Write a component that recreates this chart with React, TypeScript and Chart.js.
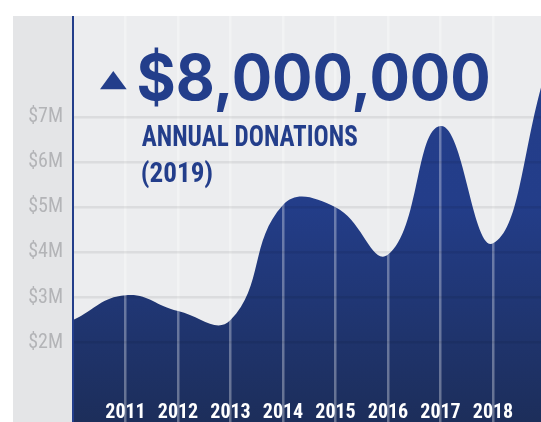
import React, { useEffect, useRef } from 'react';
import { Chart, registerables } from 'chart.js';

Chart.register(...registerables);

// ---- data ----
const years = [2010, 2011, 2012, 2013, 2014, 2015, 2016, 2017, 2018, 2019];
const donationsM = [2.5, 3.05, 2.7, 2.5, 5.05, 5.0, 3.95, 6.8, 4.2, 8.0]; // millions of dollars
const labelledYears = [2011, 2012, 2013, 2014, 2015, 2016, 2017, 2018];
const yTickValues = [2, 3, 4, 5, 6, 7];
const headline = '$8,000,000';
const subtitleLine1 = 'ANNUAL DONATIONS';
const subtitleLine2 = '(2019)';

const NAVY = '#233e8b';
const NARROW = '"Roboto Condensed", "Liberation Sans Narrow", "DejaVu Sans Condensed", sans-serif';

function drawFitted(
  ctx: CanvasRenderingContext2D,
  text: string,
  family: string,
  weight: string,
  refChar: string,
  left: number,
  right: number,
  capTop: number,
  baseline: number
) {
  ctx.save();
  ctx.font = `${weight} 100px ${family}`;
  const asc = ctx.measureText(refChar).actualBoundingBoxAscent || 72;
  const size = (100 * (baseline - capTop)) / asc;
  ctx.font = `${weight} ${size}px ${family}`;
  const m = ctx.measureText(text);
  const inkW = m.actualBoundingBoxLeft + m.actualBoundingBoxRight;
  const sx = (right - left) / inkW;
  ctx.translate(left, baseline);
  ctx.scale(sx, 1);
  ctx.textAlign = 'left';
  ctx.textBaseline = 'alphabetic';
  ctx.fillStyle = NAVY;
  ctx.fillText(text, m.actualBoundingBoxLeft, 0);
  ctx.restore();
}

const backgroundPlugin = {
  id: 'panelBackground',
  beforeDraw(chart: any) {
    const { ctx, chartArea: a, width, height } = chart;
    ctx.save();
    ctx.fillStyle = '#e4e5e7';
    ctx.fillRect(0, 0, width, height);
    ctx.fillStyle = '#ecedef';
    ctx.fillRect(a.left, a.top, a.right - a.left, a.bottom - a.top);
    ctx.restore();
  },
};

const headlinePlugin = {
  id: 'headline',
  afterDraw(chart: any) {
    const ctx: CanvasRenderingContext2D = chart.ctx;
    ctx.save();
    ctx.fillStyle = NAVY;
    ctx.beginPath();
    ctx.moveTo(87, 73.3);
    ctx.lineTo(113.7, 73.3);
    ctx.lineTo(100.3, 55);
    ctx.closePath();
    ctx.fill();
    ctx.restore();
    drawFitted(ctx, headline, 'Inter, Lato, "Open Sans", sans-serif', '700', '8', 125.3, 475.3, 37.3, 84);
    drawFitted(ctx, subtitleLine1, NARROW, 'bold', 'A', 128.7, 344.3, 109, 129.7);
    drawFitted(ctx, subtitleLine2, NARROW, 'bold', '2', 128.7, 199.3, 145.7, 165.7);
  },
};

export default function App() {
  const ref = useRef<HTMLCanvasElement | null>(null);

  useEffect(() => {
    if (!ref.current) return;
    const chart = new Chart(ref.current, {
      type: 'line',
      data: {
        datasets: [
          {
            data: years.map((y, i) => ({ x: y, y: donationsM[i] })),
            fill: 'start',
            borderWidth: 0,
            pointRadius: 0,
            tension: 0.45,
            backgroundColor: (c: any) => {
              const a = c.chart.chartArea;
              if (!a) return NAVY;
              const g = c.chart.ctx.createLinearGradient(0, a.top, 0, a.bottom);
              g.addColorStop(0, '#243e8c');
              g.addColorStop(0.45, '#233d89');
              g.addColorStop(1, '#1c2d58');
              return g;
            },
          },
        ],
      },
      options: {
        animation: false,
        responsive: true,
        maintainAspectRatio: false,
        layout: { padding: 0, autoPadding: false },
        elements: { line: { capBezierPoints: false } },
        plugins: { legend: { display: false }, tooltip: { enabled: false }, title: { display: false } },
        scales: {
          x: {
            type: 'linear',
            min: 2010,
            max: 2018.914,
            afterBuildTicks: (scale: any) => {
              scale.ticks = labelledYears.map((v) => ({ value: v }));
            },
            afterFit: (scale: any) => {
              scale.height = 0;
              scale.paddingLeft = 0;
              scale.paddingRight = 0;
              scale.paddingTop = 0;
              scale.paddingBottom = 0;
            },
            ticks: {
              z: 2,
              mirror: true,
              padding: 8,
              color: '#ffffff',
              font: { family: NARROW, size: 20, weight: 'bold', lineHeight: 1.2 },
              callback: (v: any) => String(v),
              maxRotation: 0,
              autoSkip: false,
            },
            grid: { z: 1, color: 'rgba(255,255,255,0.33)', lineWidth: 2.5, drawTicks: false },
            border: { display: false },
          },
          y: {
            min: 0,
            max: 9.234,
            afterBuildTicks: (scale: any) => {
              scale.ticks = yTickValues.map((v) => ({ value: v }));
            },
            afterFit: (scale: any) => {
              scale.width = 60;
              scale.paddingTop = 0;
              scale.paddingBottom = 0;
              scale.paddingLeft = 0;
              scale.paddingRight = 0;
            },
            ticks: {
              z: 2,
              padding: 10,
              color: '#b3b4b7',
              font: { family: NARROW, size: 20, weight: 'normal' },
              callback: (v: any) => `$${v}M`,
            },
            grid: { z: 1, color: 'rgba(0,0,0,0.07)', lineWidth: 2.5, drawTicks: false },
            border: { z: 2, display: true, color: NAVY, width: 2 },
          },
        },
      },
      plugins: [backgroundPlugin, headlinePlugin],
    } as any);
    return () => chart.destroy();
  }, []);

  return (
    <div
      style={{
        position: 'fixed',
        left: 0,
        top: 0,
        width: 541,
        height: 422,
        overflow: 'hidden',
        background: '#ffffff',
      }}
    >
      <div style={{ position: 'absolute', left: 13, top: 16, width: 528, height: 417 }}>
        <canvas ref={ref} />
      </div>
    </div>
  );
}
